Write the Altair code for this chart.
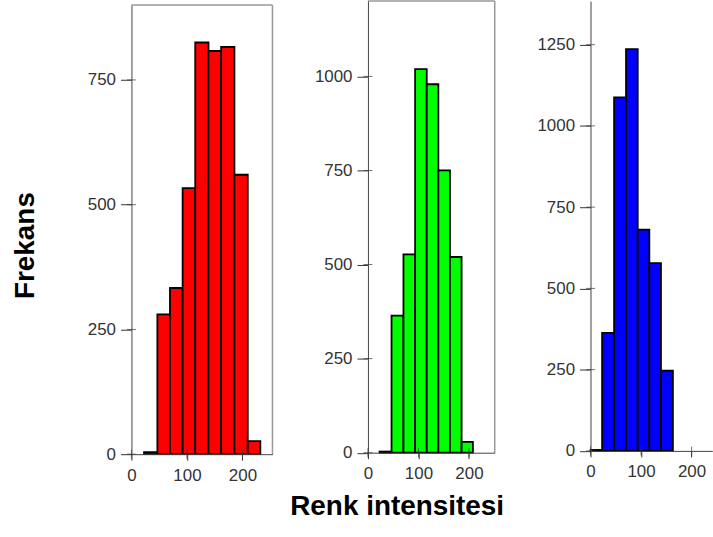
import altair as alt
import pandas as pd

FONT = "Liberation Sans"

# shared x tick labels
x_ticks = [0, 100, 200]

# red channel histogram
red_lo = [22.7, 46.7, 69.4, 92.2, 114.9, 138.8, 161.6, 185.5, 209.5]
red_hi = [46.7, 69.4, 92.2, 114.9, 138.8, 161.6, 185.5, 209.5, 232.2]
red_n = [4, 280, 333, 533, 825, 808, 816, 560, 26]
red_yticks = [0, 250, 500, 750]

# green channel histogram
green_lo = [23.0, 46.7, 70.3, 93.4, 116.4, 139.4, 162.4, 185.4]
green_hi = [46.7, 70.3, 93.4, 116.4, 139.4, 162.4, 185.4, 207.8]
green_n = [3, 364, 527, 1019, 979, 750, 520, 29]
green_yticks = [0, 250, 500, 750, 1000]

# blue channel histogram
blue_lo = [0.0, 23.0, 46.7, 70.3, 93.4, 116.4, 139.4]
blue_hi = [23.0, 46.7, 70.3, 93.4, 116.4, 139.4, 163.0]
blue_n = [3, 363, 1088, 1236, 681, 578, 247]
blue_yticks = [0, 250, 500, 750, 1000, 1250]


def make_axis(values, tick_size, pad, **extra):
    return alt.Axis(
        values=values, format="d", grid=False, tickSize=tick_size,
        tickColor="#333333", tickWidth=1, domainColor="#444444", domainWidth=1,
        labelFont=FONT, labelFontSize=17, labelColor="#333333",
        labelPadding=pad, labelFlush=False, labelOverlap=False, zindex=1, **extra)


def panel(lo, hi, n, yticks, color, xmax, ymax, w, h, frame, top_gap=0,
          xtitle_kw=None, ytitle_kw=None):
    xs = alt.Scale(domain=[0, xmax], nice=False, zero=False)
    if top_gap:
        ys = alt.Scale(domain=[0, ymax], nice=False, range=[h, top_gap])
    else:
        ys = alt.Scale(domain=[0, ymax], nice=False)
    xkw = xtitle_kw if xtitle_kw else {"title": None}
    ykw = ytitle_kw if ytitle_kw else {"title": None}
    xaxis = make_axis(x_ticks, 6, 7, **xkw)
    yaxis = make_axis(yticks, 11, 5, **ykw)

    bars = alt.Chart(pd.DataFrame({"lo": lo, "hi": hi, "n": n})).mark_bar(
        color=color, stroke="black", strokeWidth=1.8
    ).encode(
        x=alt.X("lo:Q", scale=xs, axis=xaxis),
        x2="hi:Q",
        y=alt.Y("n:Q", scale=ys, axis=yaxis),
        y2=alt.datum(0),
    )
    xt = alt.Chart(pd.DataFrame({"t": x_ticks})).mark_tick(
        orient="vertical", size=9, thickness=1, color="#333333"
    ).encode(
        x=alt.X("t:Q", scale=xs, axis=xaxis),
        y=alt.YDatum(0, scale=ys, axis=yaxis),
    )
    yt = alt.Chart(pd.DataFrame({"t": yticks})).mark_tick(
        orient="horizontal", size=9, thickness=1, color="#333333"
    ).encode(
        y=alt.Y("t:Q", scale=ys, axis=yaxis),
        x=alt.XDatum(0, scale=xs, axis=xaxis),
    )
    layers = [bars, xt, yt]
    if frame:
        top_rule = alt.Chart(pd.DataFrame({"v": [0]})).mark_rule(
            color="#999999", strokeWidth=1.5
        ).encode(
            x=alt.XDatum(0, scale=xs, axis=xaxis), x2=alt.datum(xmax),
            y=alt.YDatum(ymax, scale=ys, axis=yaxis),
        )
        right_rule = alt.Chart(pd.DataFrame({"v": [0]})).mark_rule(
            color="#999999", strokeWidth=1.5
        ).encode(
            x=alt.XDatum(xmax, scale=xs, axis=xaxis),
            y=alt.YDatum(0, scale=ys, axis=yaxis), y2=alt.datum(ymax),
        )
        layers = [top_rule, right_rule] + layers
    return alt.layer(*layers).properties(
        width=w, height=h, view=alt.ViewBackground(stroke="transparent"))


red = panel(red_lo, red_hi, red_n, red_yticks, "#ff0000", 254, 900, 141.6, 455, True,
            top_gap=4,
            ytitle_kw=dict(title="Frekans", titleX=-106.5, titleY=245, titleAngle=270,
                           titleAlign="center", titleBaseline="middle", titleFont=FONT,
                           titleFontSize=28, titleFontWeight="bold", titleColor="black"))
green = panel(green_lo, green_hi, green_n, green_yticks, "#00ff00", 251, 1200, 127.3, 453.5, True,
              xtitle_kw=dict(title="Renk intensitesi", titleX=28.8, titleY=54, titleAngle=0,
                             titleAlign="center", titleBaseline="middle", titleFont=FONT,
                             titleFontSize=28, titleFontWeight="bold", titleColor="black"))
blue = panel(blue_lo, blue_hi, blue_n, blue_yticks, "#0000ff", 241, 1384, 122.3, 451.7, False)

chart = alt.hconcat(red, green, blue, spacing=95.5, bounds="flush").properties(
    padding={"left": 11, "top": -2, "right": 0, "bottom": 0},
    background="white",
).configure(font=FONT)

chart.save("out.html", embed_options={"renderer": "svg", "actions": False})
